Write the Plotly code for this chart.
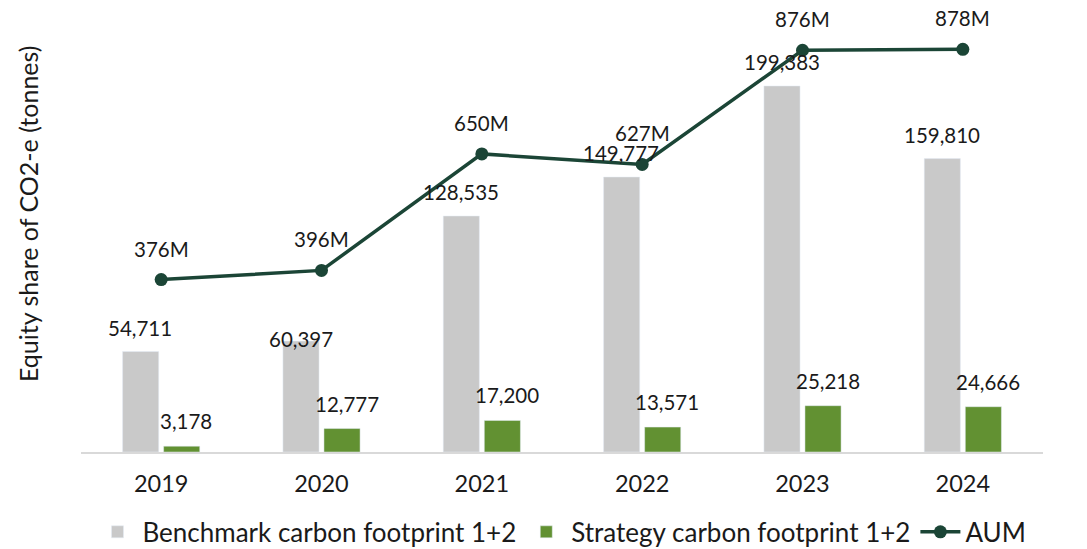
import plotly.graph_objects as go

years = ["2019", "2020", "2021", "2022", "2023", "2024"]
benchmark = [54711, 60397, 128535, 149777, 199383, 159810]
strategy = [3178, 12777, 17200, 13571, 25218, 24666]
aum = [376, 396, 650, 627, 876, 878]

GREY = "#C9C9C9"
GREEN = "#629132"
DARK = "#1B4536"
FONT = "Lato"
TXT = "#1a1a1a"

pos = list(range(len(years)))

fig = go.Figure()
fig.add_trace(go.Bar(x=pos, y=benchmark, name="Benchmark carbon footprint 1+2",
                     marker=dict(color=GREY), hoverinfo="skip"))
fig.add_trace(go.Bar(x=pos, y=strategy, name="Strategy carbon footprint 1+2",
                     marker=dict(color=GREEN), hoverinfo="skip"))
fig.add_trace(go.Scatter(x=pos, y=aum, name="AUM", yaxis="y2", mode="lines+markers",
                         line=dict(color=DARK, width=3.5),
                         marker=dict(color=DARK, size=13), hoverinfo="skip"))

ann = []
bench_shift = [24, 2, 24, 24, 24, 24]
for i in pos:
    ann.append(dict(x=i, y=benchmark[i], xref="x", yref="y", text=f"{benchmark[i]:,}",
                    showarrow=False, xshift=-21, yshift=bench_shift[i], yanchor="middle",
                    font=dict(family=FONT, size=20.5, color=TXT)))
    ann.append(dict(x=i, y=strategy[i], xref="x", yref="y", text=f"{strategy[i]:,}",
                    showarrow=False, xshift=25, yshift=25, yanchor="middle",
                    font=dict(family=FONT, size=20.5, color=TXT)))
    ann.append(dict(x=i, y=aum[i], xref="x", yref="y2", text=f"{aum[i]}M",
                    showarrow=False, yshift=31, yanchor="middle",
                    font=dict(family=FONT, size=20.5, color=TXT)))
ann.append(dict(x=-0.055, y=0.551, xref="paper", yref="paper",
                text="Equity share of CO2-e (tonnes)", textangle=-90, showarrow=False,
                xanchor="center", yanchor="middle",
                font=dict(family=FONT, size=25, color=TXT)))

fig.update_layout(
    width=1087, height=549,
    margin=dict(l=81, r=44, t=20, b=97, autoexpand=False),
    paper_bgcolor="white", plot_bgcolor="white",
    barmode="group", bargap=0.488, bargroupgap=0.12,
    font=dict(family=FONT, size=20, color=TXT),
    xaxis=dict(range=[-0.5, len(years) - 0.5], tickmode="array", tickvals=pos,
               ticktext=years, showline=True, linecolor="#D9D9D9", linewidth=2, ticks="",
               tickfont=dict(family=FONT, size=23.5, color=TXT), showgrid=False,
               zeroline=False, ticklabelstandoff=10),
    yaxis=dict(range=[0, 235300], showgrid=False, showticklabels=False, zeroline=False,
               showline=False),
    yaxis2=dict(range=[0, 942], overlaying="y", side="right", showgrid=False,
                showticklabels=False, zeroline=False, showline=False),
    legend=dict(orientation="h", x=0.5, xanchor="center", y=-0.185, yanchor="middle",
                font=dict(family=FONT, size=26, color=TXT), itemwidth=40,
                traceorder="normal"),
    annotations=ann,
    showlegend=True,
)

fig.write_html("out.html", config={"displayModeBar": False},
               post_script="document.body.style.margin='0';")
